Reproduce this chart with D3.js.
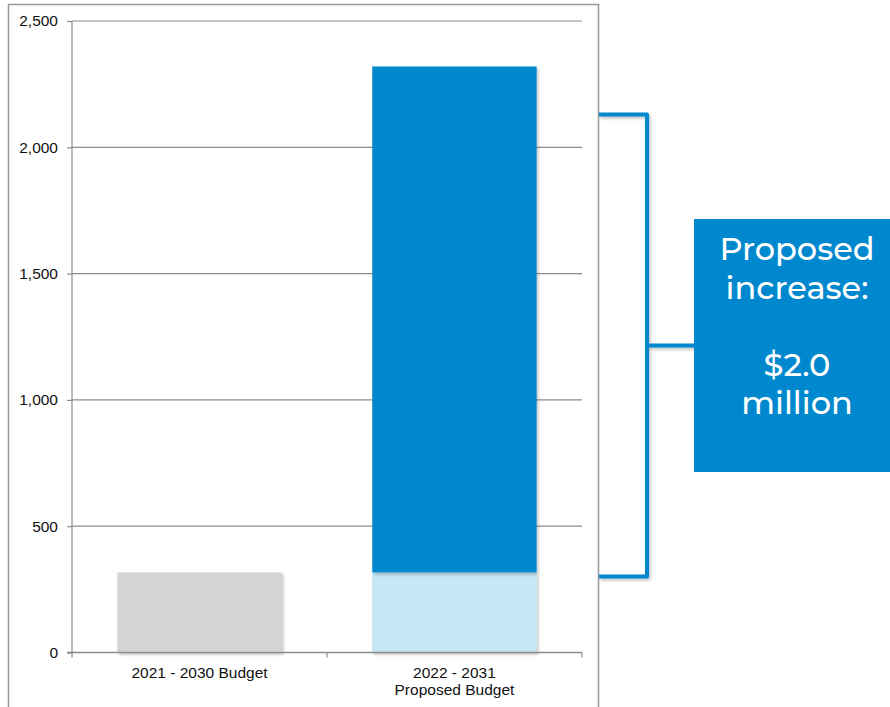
<!DOCTYPE html>
<html><head><meta charset="utf-8">
<script src="https://cdn.jsdelivr.net/npm/d3@7"></script>
<style>body{margin:0;background:#fff}svg{display:block}</style>
</head><body><svg id="c" width="890" height="707"></svg>
<script>
const categories = ["2021 - 2030 Budget", "2022 - 2031|Proposed Budget"];
const baseValues = [317, 317];
const increaseValues = [0, 2003];
const yTicks = [0, 500, 1000, 1500, 2000, 2500];
const calloutLines = ["Proposed", "increase:", "", "$2.0", "million"];

(function(){
const svg = d3.select("#c");
const defs = svg.append("defs");
const f = defs.append("filter").attr("id","sh").attr("x","-10%").attr("y","-10%").attr("width","130%").attr("height","130%");
f.append("feDropShadow").attr("dx",1.5).attr("dy",2).attr("stdDeviation",1.5).attr("flood-color","#000").attr("flood-opacity",0.25);

// frame
svg.append("rect").attr("x",8.5).attr("y",4.5).attr("width",590).attr("height",720)
  .attr("fill","none").attr("stroke","#999").attr("stroke-width",1.5);

const L=72, R=582, T=21, B=652.5;
const x = d3.scaleBand().domain(categories).range([L,R]).paddingInner(0.355).paddingOuter(0.178);
const y = d3.scaleLinear().domain([0,2500]).range([B,T]);

// gridlines
svg.append("g").selectAll("line").data(yTicks.filter(d=>d>0)).join("line")
  .attr("x1",L).attr("x2",R).attr("y1",d=>y(d)).attr("y2",d=>y(d))
  .attr("stroke","#8c8c8c").attr("stroke-width",1.2);

// bars
const g = svg.append("g");
categories.forEach((c,i)=>{
  g.append("rect").attr("x",x(c)).attr("width",x.bandwidth())
    .attr("y",y(baseValues[i])).attr("height",y(0)-y(baseValues[i]))
    .attr("fill", i===0 ? "#d3d4d6" : "#c5e8f7").attr("filter","url(#sh)");
  if (increaseValues[i]>0) {
    g.append("rect").attr("x",x(c)).attr("width",x.bandwidth())
      .attr("y",y(baseValues[i]+increaseValues[i])).attr("height",y(baseValues[i])-y(baseValues[i]+increaseValues[i]))
      .attr("fill","#0088ce").attr("filter","url(#sh)");
  }
});

const FF = "Liberation Sans, Arial, sans-serif", FS = 15.5;
// y axis
const ya = svg.append("g").attr("transform",`translate(${L},0)`)
  .call(d3.axisLeft(y).tickValues(yTicks).tickFormat(d3.format(",")).tickSize(5).tickPadding(9));
ya.select(".domain").attr("stroke","#8c8c8c").attr("stroke-width",1.2).attr("d",`M-0,${T}V${B}`);
ya.selectAll(".tick line").attr("stroke","#8c8c8c").attr("stroke-width",1.2);
ya.selectAll("text").attr("font-family",FF).attr("font-size",FS).attr("fill","#111");

// x axis
const xa = svg.append("g").attr("transform",`translate(0,${B})`);
xa.append("line").attr("x1",L-5).attr("x2",R).attr("y1",0).attr("y2",0).attr("stroke","#8c8c8c").attr("stroke-width",1.5);
const bounds = [L, (L+R)/2, R];
xa.selectAll(".xt").data(bounds).join("line").attr("x1",d=>d).attr("x2",d=>d).attr("y1",0).attr("y2",5)
  .attr("stroke","#8c8c8c").attr("stroke-width",1.2);
categories.forEach(c=>{
  const lines = c.split("|");
  const t = xa.append("text").attr("x",x(c)+x.bandwidth()/2).attr("y",25)
    .attr("text-anchor","middle").attr("font-family",FF).attr("font-size",FS).attr("fill","#111");
  lines.forEach((ln,k)=>t.append("tspan").attr("x",x(c)+x.bandwidth()/2).attr("dy",k?17.5:0).text(ln));
});

// bracket
const bTop = y(baseValues[1]+increaseValues[1]) + 48, bBot = y(baseValues[1]) + 4;
const bx = 647, mid = (bTop+bBot)/2;
svg.append("path").attr("d",`M599,${bTop}H${bx}V${bBot}H599 M${bx},${mid}H696`)
  .attr("fill","none").attr("stroke","#0088ce").attr("stroke-width",4).attr("stroke-linejoin","round")
  .attr("filter","url(#sh)");

// callout box
svg.append("rect").attr("x",694).attr("y",219).attr("width",200).attr("height",253).attr("fill","#0088ce");
const tt = svg.append("text").attr("text-anchor","middle").attr("fill","#fff")
  .attr("font-family","Montserrat, Lato, 'Open Sans', sans-serif").attr("font-size",32).attr("font-weight",500);
calloutLines.forEach((ln,k)=>{
  tt.append("tspan").attr("x",797).attr("y",260+k*38.5).text(ln);
});
})();
</script></body></html>
